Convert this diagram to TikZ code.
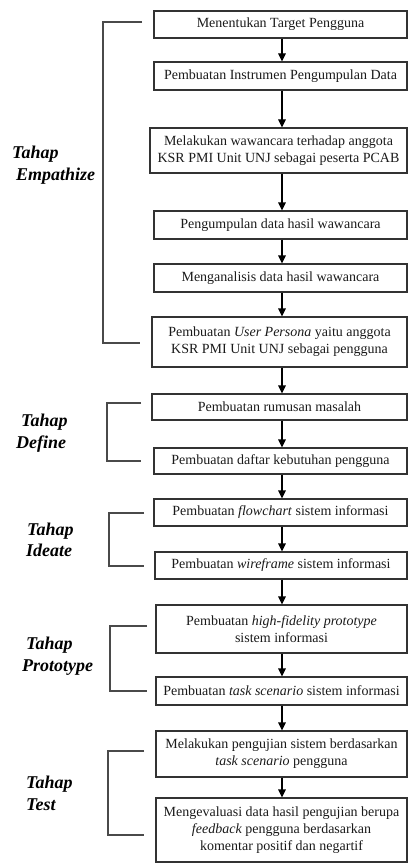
\documentclass[tikz,border=0pt]{standalone}
\usepackage{fontspec}
\setmainfont{Liberation Serif}
\usetikzlibrary{arrows.meta}
\definecolor{boxline}{HTML}{333333}
\definecolor{bracketgray}{HTML}{4A4A4A}
\definecolor{ink}{HTML}{1A1A1A}
\begin{document}
\begin{tikzpicture}[x=1pt,y=-1pt,
  stepbox/.style={draw=boxline, line width=1.1pt, inner sep=0pt, align=center,
    font=\fontsize{14}{17}\selectfont, text=ink},
  flow/.style={draw=black, line width=1.1pt, -{Triangle[length=8pt,width=7.5pt]}},
  brace/.style={draw=bracketgray, line width=1.4pt},
  phase/.style={font=\fontsize{18}{22}\selectfont\bfseries\itshape, anchor=base west,
    inner sep=0pt, text=black}]
\useasboundingbox (0,0) rectangle (408,864);

% process steps
\node[stepbox, minimum width=253pt, minimum height=27pt] (b1) at (280.5,24.5) {Menentukan Target Pengguna};
\node[stepbox, minimum width=253pt, minimum height=28pt] (b2) at (280.5,76) {Pembuatan Instrumen Pengumpulan Data};
\node[stepbox, minimum width=257pt, minimum height=45pt] (b3) at (278.5,150.5) {Melakukan wawancara terhadap anggota\\KSR PMI Unit UNJ sebagai peserta PCAB};
\node[stepbox, minimum width=253pt, minimum height=28pt] (b4) at (280.5,225) {Pengumpulan data hasil wawancara};
\node[stepbox, minimum width=253pt, minimum height=28pt] (b5) at (280.5,278) {Menganalisis data hasil wawancara};
\node[stepbox, minimum width=255pt, minimum height=50pt] (b6) at (279.5,342) {Pembuatan \textit{User Persona} yaitu anggota\\KSR PMI Unit UNJ sebagai pengguna};
\node[stepbox, minimum width=255pt, minimum height=26pt] (b7) at (279.5,407) {Pembuatan rumusan masalah};
\node[stepbox, minimum width=253pt, minimum height=26pt] (b8) at (280.5,461) {Pembuatan daftar kebutuhan pengguna};
\node[stepbox, minimum width=253pt, minimum height=27pt] (b9) at (280.5,512.5) {Pembuatan \textit{flowchart} sistem informasi};
\node[stepbox, minimum width=252pt, minimum height=27pt] (b10) at (281,565.5) {Pembuatan \textit{wireframe} sistem informasi};
\node[stepbox, minimum width=251pt, minimum height=48pt] (b11) at (281.5,629) {Pembuatan \textit{high-fidelity prototype}\\sistem informasi};
\node[stepbox, minimum width=251pt, minimum height=28pt] (b12) at (281.5,691) {Pembuatan \textit{task scenario} sistem informasi};
\node[stepbox, minimum width=251pt, minimum height=46pt] (b13) at (281.5,754) {Melakukan pengujian sistem berdasarkan\\\textit{task scenario} pengguna};
\node[stepbox, minimum width=251pt, minimum height=64pt] (b14) at (281.5,830) {Mengevaluasi data hasil pengujian berupa\\\textit{feedback} pengguna berdasarkan\\komentar positif dan negartif};

% downward flow along one vertical line
\coordinate (spine) at (282,0);
\foreach \a/\b in {b1/b2,b2/b3,b3/b4,b4/b5,b5/b6,b6/b7,b7/b8,b8/b9,b9/b10,b10/b11,b11/b12,b12/b13,b13/b14}
  \draw[flow] (\a.south -| spine) -- (\b.north -| spine);

% phase brackets
\draw[brace] (142,22) -- (103,22) -- (103,343) -- (140,343);
\draw[brace] (141,403) -- (107,403) -- (107,461) -- (141,461);
\draw[brace] (144,513) -- (109,513) -- (109,566) -- (144,566);
\draw[brace] (147,626) -- (110,626) -- (110,691) -- (147,691);
\draw[brace] (144,751) -- (108,751) -- (108,835) -- (144,835);

% phase labels
\node[phase] (emp1) at (12,158) {Tahap};
\node[phase] (emp2) at (16,180) {Empathize};
\node[phase] (def1) at (21,426) {Tahap};
\node[phase] (def2) at (16,448) {Define};
\node[phase] (ide1) at (27,535) {Tahap};
\node[phase] (ide2) at (26,556) {Ideate};
\node[phase] (pro1) at (26,649) {Tahap};
\node[phase] (pro2) at (22,671) {Prototype};
\node[phase] (tes1) at (26,788) {Tahap};
\node[phase] (tes2) at (26,810) {Test};
\end{tikzpicture}
\end{document}
